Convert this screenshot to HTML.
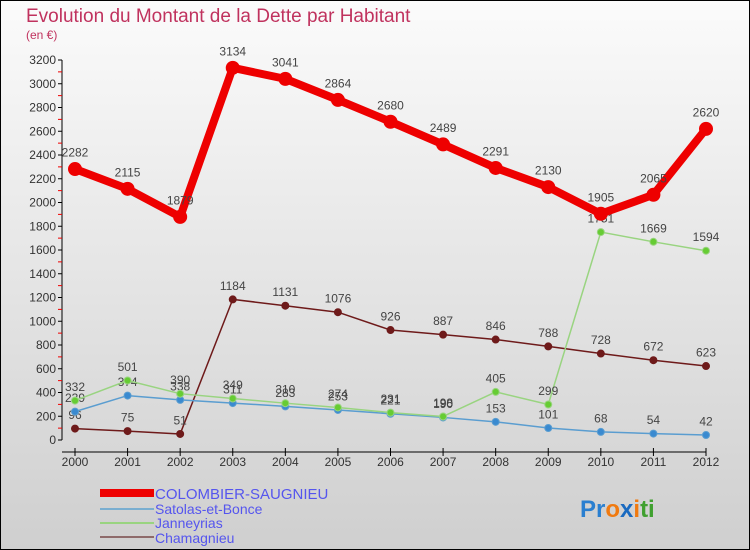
<!DOCTYPE html>
<html><head><meta charset="utf-8"><style>
body{margin:0;}
#wrap{width:750px;height:550px;position:relative;overflow:hidden;font-family:"Liberation Sans",sans-serif;}
svg text{font-family:"Liberation Sans",sans-serif;}
</style></head><body>
<div id="wrap">
<svg id="chart" width="750" height="550" xmlns="http://www.w3.org/2000/svg">
<defs><linearGradient id="bg" x1="0" y1="0" x2="0" y2="1"><stop offset="0" stop-color="#fbfbfb"/><stop offset="1" stop-color="#cfcfcf"/></linearGradient></defs>
<rect x="0.5" y="0.5" width="749" height="549" fill="url(#bg)" stroke="#000"/>
<text x="26" y="22" font-size="19" fill="#c0325e">Evolution du Montant de la Dette par Habitant</text>
<text x="26" y="39" font-size="12" fill="#c0325e">(en €)</text>
<g id="axes"></g><g id="series"></g>
<g>
<rect x="100" y="489" width="54" height="8" fill="#e00"/>
<text x="155" y="499" font-size="15" fill="#5555ee">COLOMBIER-SAUGNIEU</text>
<line x1="100" y1="509" x2="154" y2="509" stroke="#7aaed0" stroke-width="2"/>
<text x="155" y="514" font-size="14" fill="#5555ee">Satolas-et-Bonce</text>
<line x1="100" y1="523" x2="154" y2="523" stroke="#99d480" stroke-width="2"/>
<text x="155" y="528" font-size="14" fill="#5555ee">Janneyrias</text>
<line x1="100" y1="537" x2="154" y2="537" stroke="#8e6a6a" stroke-width="2"/>
<text x="155" y="543" font-size="14" fill="#5555ee">Chamagnieu</text>
</g>
<text x="580" y="517" font-size="24" font-weight="bold"><tspan fill="#2a7fd0">Pr</tspan><tspan fill="#f07a10">o</tspan><tspan fill="#1a6ac0">x</tspan><tspan fill="#f07a10">i</tspan><tspan fill="#40a030">ti</tspan></text>
</svg></div>
<script>
const years=[2000,2001,2002,2003,2004,2005,2006,2007,2008,2009,2010,2011,2012];
const colombier=[2282,2115,1879,3134,3041,2864,2680,2489,2291,2130,1905,2065,2620];
const satolas=[239,374,338,311,283,253,221,190,153,101,68,54,42];
const janneyrias=[332,501,390,349,310,274,231,198,405,299,1751,1669,1594];
const chamagnieu=[96,75,51,1184,1131,1076,926,887,846,788,728,672,623];
const yTicks=[0,200,400,600,800,1000,1200,1400,1600,1800,2000,2200,2400,2600,2800,3000,3200];
const NS="http://www.w3.org/2000/svg";
function X(i){return 75+i*(706-75)/(years.length-1);}
function Y(v){return 440-v*380/3200;}
function mk(tag,attrs,parent){const e=document.createElementNS(NS,tag);for(const k in attrs)e.setAttribute(k,attrs[k]);parent.appendChild(e);return e;}
const ax=document.getElementById('axes');
let a=mk('line',{x1:62,y1:Y(3200),x2:62,y2:Y(0),stroke:'#000'},ax);


a=mk('line',{x1:62,y1:Y(0)+12,x2:706,y2:Y(0)+12,stroke:'#000'},ax);


yTicks.forEach(v=>{
 mk('line',{x1:58,y1:Y(v),x2:62,y2:Y(v),stroke:'#000'},ax);
 if(v<3200) mk('line',{x1:58,y1:Y(v+100),x2:62,y2:Y(v+100),stroke:'#e00'},ax);
 const t=mk('text',{x:56,y:Y(v)+4,'font-size':12,fill:'#333','text-anchor':'end'},ax);
 t.textContent=v;
 
 
});
years.forEach((y,i)=>{
 mk('line',{x1:X(i),y1:Y(0)+8,x2:X(i),y2:Y(0)+16,stroke:'#000'},ax);
 const t=mk('text',{x:X(i),y:466,'font-size':12,fill:'#333','text-anchor':'middle'},ax);
 t.textContent=y;
 
 
});
const sg=document.getElementById('series');
function draw(data,name,color,dot,width,r,fs){
 const g=mk('g',{},sg);
 
 
 const p=mk('polyline',{points:data.map((v,i)=>X(i)+','+Y(v)).join(' '),fill:'none',stroke:color,'stroke-width':width,'stroke-linejoin':'round'},g);
 
 
 data.forEach((v,i)=>{
  const c=mk('circle',{cx:X(i),cy:Y(v),r:r,fill:dot,stroke:color,'stroke-width':1},g);
  
  
  const t=mk('text',{x:X(i),y:Y(v)-r-6,'font-size':fs,fill:'#444','text-anchor':'middle'},g);
  t.textContent=v;
  
  
 });
}
draw(chamagnieu,'chamagnieu','#6e1a1a','#6e1a1a',1.5,3.5,12);
draw(satolas,'satolas','#5a9dd0','#3a8ad0',1.5,3.5,12);
draw(janneyrias,'janneyrias','#99d480','#66cc33',1.5,3.5,12);
draw(colombier,'colombier','#ee0000','#ee0000',8,6.5,12);
</script>
</body></html>
